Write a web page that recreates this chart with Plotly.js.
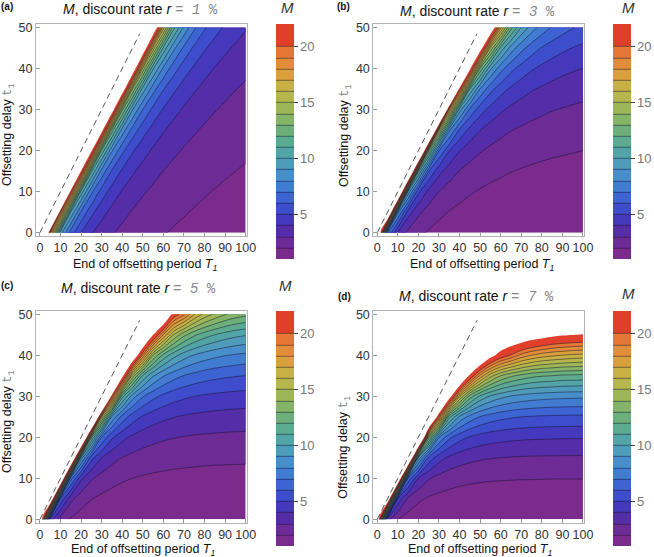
<!DOCTYPE html>
<html>
<head>
<meta charset="utf-8">
<script src="https://cdn.plot.ly/plotly-3.0.1.min.js"></script>
<style>
  html, body { margin: 0; padding: 0; background: #fff; }
  #chart { width: 654px; height: 557px; }
</style>
</head>
<body>
<div id="chart"></div>
<script>
// grid: end of offsetting period T1 (x) and offsetting delay t1 (y)
const periodEnd = [0, 5, 10, 15, 20, 25, 30, 35, 40, 45, 50, 55, 60, 65, 70, 75, 80, 85, 90, 95, 100];
const delay = [0, 5, 10, 15, 20, 25, 30, 35, 40, 45, 50];

const rates = ['1', '3', '5', '7'];
const panelTags = ['(a)', '(b)', '(c)', '(d)'];

// M read off each panel on the grid above (rows = delay, cols = periodEnd)
// values above 22 are off the colour range (left blank); next to the edge they
// are set so the blank edge lands where it is in the figure
const mRate1 = [
  [40.4, 18.4, 9.44, 6.47, 4.98, 4.09, 3.50, 3.08, 2.77, 2.53, 2.33, 2.17, 2.04, 1.93, 1.84, 1.76, 1.69, 1.63, 1.57, 1.53, 1.48],
  [30, 41, 19.4, 9.98, 6.84, 5.27, 4.33, 3.71, 3.26, 2.93, 2.67, 2.47, 2.30, 2.16, 2.05, 1.95, 1.86, 1.79, 1.72, 1.67, 1.61],
  [30, 30, 42, 20.5, 10.6, 7.23, 5.57, 4.58, 3.92, 3.45, 3.10, 2.83, 2.61, 2.43, 2.29, 2.16, 2.06, 1.97, 1.89, 1.82, 1.76],
  [30, 30, 30, 43, 21.7, 11.2, 7.65, 5.89, 4.84, 4.15, 3.65, 3.28, 2.99, 2.76, 2.57, 2.42, 2.29, 2.18, 2.08, 2.00, 1.93],
  [30, 30, 30, 30, 43.7, 22.5, 11.8, 8.09, 6.23, 5.12, 4.38, 3.86, 3.46, 3.16, 2.92, 2.72, 2.56, 2.42, 2.30, 2.20, 2.11],
  [30, 30, 30, 30, 30, 30, 23.2, 12.5, 8.56, 6.59, 5.42, 4.64, 4.08, 3.66, 3.34, 3.09, 2.88, 2.70, 2.56, 2.43, 2.33],
  [30, 30, 30, 30, 30, 30, 30, 23.9, 13.2, 9.05, 6.97, 5.73, 4.90, 4.32, 3.88, 3.53, 3.26, 3.04, 2.86, 2.71, 2.58],
  [30, 30, 30, 30, 30, 30, 30, 30, 24.6, 14.0, 9.57, 7.37, 6.06, 5.19, 4.56, 4.10, 3.74, 3.45, 3.22, 3.02, 2.86],
  [30, 30, 30, 30, 30, 30, 30, 30, 30, 25.0, 14.8, 10.1, 7.80, 6.41, 5.48, 4.83, 4.33, 3.95, 3.65, 3.40, 3.20],
  [30, 30, 30, 30, 30, 30, 30, 30, 30, 30, 25.2, 15.6, 10.7, 8.25, 6.78, 5.80, 5.10, 4.58, 4.18, 3.86, 3.60],
  [30, 30, 30, 30, 30, 30, 30, 30, 30, 30, 30, 25.5, 16.5, 11.3, 8.72, 7.17, 6.13, 5.40, 4.85, 4.42, 4.08]
];
const mRate3 = [
  [29.2, 7.18, 3.86, 2.76, 2.22, 1.90, 1.69, 1.54, 1.43, 1.35, 1.29, 1.24, 1.20, 1.17, 1.14, 1.12, 1.10, 1.08, 1.07, 1.06, 1.05],
  [30, 29.8, 8.34, 4.48, 3.21, 2.58, 2.20, 1.96, 1.79, 1.66, 1.57, 1.50, 1.44, 1.39, 1.35, 1.32, 1.30, 1.28, 1.26, 1.25, 1.23],
  [30, 30, 31, 9.69, 5.21, 3.73, 2.99, 2.56, 2.27, 2.08, 1.93, 1.82, 1.74, 1.67, 1.62, 1.57, 1.54, 1.51, 1.48, 1.46, 1.45],
  [30, 30, 30, 32.5, 11.3, 6.05, 4.33, 3.48, 2.97, 2.64, 2.41, 2.24, 2.12, 2.02, 1.94, 1.88, 1.83, 1.79, 1.75, 1.72, 1.70],
  [30, 30, 30, 30, 34.2, 13.1, 7.03, 5.03, 4.04, 3.45, 3.07, 2.80, 2.61, 2.46, 2.35, 2.26, 2.18, 2.12, 2.08, 2.04, 2.00],
  [30, 30, 30, 30, 30, 36.2, 15.2, 8.17, 5.84, 4.69, 4.01, 3.57, 3.26, 3.03, 2.86, 2.73, 2.62, 2.54, 2.47, 2.41, 2.37],
  [30, 30, 30, 30, 30, 30, 38.4, 17.7, 9.49, 6.79, 5.45, 4.66, 4.14, 3.78, 3.52, 3.32, 3.17, 3.04, 2.95, 2.87, 2.80],
  [30, 30, 30, 30, 30, 30, 30, 41.1, 20.5, 11.0, 7.89, 6.33, 5.42, 4.82, 4.40, 4.09, 3.86, 3.68, 3.54, 3.42, 3.33],
  [30, 30, 30, 30, 30, 30, 30, 30, 42.5, 22.6, 12.8, 9.16, 7.36, 6.29, 5.60, 5.11, 4.75, 4.48, 4.27, 4.11, 3.98],
  [30, 30, 30, 30, 30, 30, 30, 30, 30, 30, 23.9, 14.9, 10.7, 8.55, 7.31, 6.50, 5.93, 5.52, 5.21, 4.97, 4.77],
  [30, 30, 30, 30, 30, 30, 30, 30, 30, 30, 30, 25.5, 17.3, 12.4, 9.93, 8.49, 7.55, 6.89, 6.41, 6.05, 5.77]
];
const mRate5 = [
  [26.5, 4.52, 2.54, 1.90, 1.58, 1.40, 1.29, 1.21, 1.16, 1.12, 1.09, 1.07, 1.05, 1.04, 1.03, 1.02, 1.02, 1.01, 1.01, 1.01, 1.01],
  [30, 27.2, 5.80, 3.26, 2.43, 2.03, 1.80, 1.65, 1.55, 1.49, 1.44, 1.40, 1.37, 1.35, 1.34, 1.32, 1.31, 1.31, 1.30, 1.30, 1.30],
  [30, 30, 28.6, 7.45, 4.19, 3.12, 2.61, 2.31, 2.12, 2.00, 1.91, 1.84, 1.80, 1.76, 1.74, 1.72, 1.70, 1.69, 1.68, 1.67, 1.67],
  [30, 30, 30, 30.5, 9.57, 5.38, 4.01, 3.35, 2.97, 2.73, 2.56, 2.45, 2.37, 2.31, 2.26, 2.23, 2.20, 2.18, 2.17, 2.16, 2.15],
  [30, 30, 30, 30, 32.9, 12.3, 6.91, 5.15, 4.30, 3.81, 3.50, 3.29, 3.14, 3.04, 2.96, 2.90, 2.86, 2.83, 2.80, 2.78, 2.77],
  [30, 30, 30, 30, 30, 36, 15.8, 8.87, 6.62, 5.52, 4.89, 4.49, 4.22, 4.04, 3.90, 3.80, 3.73, 3.67, 3.63, 3.60, 3.57],
  [30, 30, 30, 30, 30, 30, 40, 20.3, 11.4, 8.49, 7.09, 6.28, 5.77, 5.42, 5.18, 5.01, 4.88, 4.79, 4.72, 4.66, 4.62],
  [30, 30, 30, 30, 30, 30, 30, 43, 22.85, 14.6, 10.9, 9.10, 8.07, 7.41, 6.97, 6.66, 6.43, 6.27, 6.15, 6.06, 5.99],
  [30, 30, 30, 30, 30, 30, 30, 30, 30, 25.2, 18.8, 14.0, 11.7, 10.4, 9.51, 8.94, 8.55, 8.26, 8.05, 7.89, 7.78],
  [30, 30, 30, 30, 30, 30, 30, 30, 30, 30, 27.7, 22.1, 18.0, 15.0, 13.3, 12.2, 11.5, 11.0, 10.6, 10.3, 10.1],
  [30, 30, 30, 30, 30, 30, 30, 30, 30, 30, 30, 30, 26, 21.0, 19.3, 17.1, 15.7, 14.8, 14.1, 13.6, 13.3]
];
const mRate7 = [
  [25.4, 3.39, 1.99, 1.54, 1.33, 1.21, 1.14, 1.09, 1.06, 1.04, 1.03, 1.02, 1.02, 1.01, 1.01, 1.01, 1.00, 1.00, 1.00, 1.00, 1.00],
  [30, 26.1, 4.81, 2.82, 2.18, 1.88, 1.72, 1.62, 1.55, 1.51, 1.48, 1.46, 1.45, 1.44, 1.43, 1.43, 1.43, 1.42, 1.42, 1.42, 1.42],
  [30, 30, 27.8, 6.82, 4.00, 3.10, 2.67, 2.44, 2.29, 2.20, 2.14, 2.10, 2.08, 2.06, 2.04, 2.04, 2.03, 2.02, 2.02, 2.02, 2.02],
  [30, 30, 30, 30.2, 9.68, 5.68, 4.40, 3.79, 3.46, 3.26, 3.13, 3.04, 2.99, 2.95, 2.92, 2.90, 2.89, 2.88, 2.87, 2.87, 2.87],
  [30, 30, 30, 30, 32.5, 13.7, 8.06, 6.24, 5.38, 4.91, 4.62, 4.44, 4.32, 4.24, 4.18, 4.14, 4.12, 4.10, 4.09, 4.08, 4.07],
  [30, 30, 30, 30, 30, 32, 19.5, 11.4, 8.85, 7.64, 6.97, 6.56, 6.30, 6.13, 6.01, 5.93, 5.88, 5.84, 5.82, 5.80, 5.79],
  [30, 30, 30, 30, 30, 30, 34.6, 23.45, 16.2, 12.6, 10.8, 9.88, 9.31, 8.94, 8.69, 8.53, 8.42, 8.34, 8.29, 8.25, 8.23],
  [30, 30, 30, 30, 30, 30, 30, 30, 27.6, 21.5, 17.8, 15.4, 14.0, 13.2, 12.7, 12.3, 12.1, 12.0, 11.8, 11.8, 11.7],
  [30, 30, 30, 30, 30, 30, 30, 30, 30, 30, 26, 22.9, 21.0, 19.9, 18.7, 18.0, 17.5, 17.2, 17.0, 16.8, 16.7],
  [30, 30, 30, 30, 30, 30, 30, 30, 30, 30, 30, 30, 26, 24.7, 24.1, 23.4, 23.0, 22.5, 22.2, 22.05, 21.95],
  [30, 30, 30, 30, 30, 30, 30, 30, 30, 30, 30, 30, 30, 30, 30, 30, 30, 30, 30, 30, 30]
];
const panelGrids = [mRate1, mRate3, mRate5, mRate7];

// dashed reference line t1 = T1
const diagonal = [0, 48.5];
const colorTicks = [5, 10, 15, 20];
const blankAbove = 22;
const blankValue = 30;

// one colour per band: 1-2, 2-3, ..., 19-20, 20-22
const bandColors = [
  '#7a2b8c', '#5f2a9e', '#4a30b4', '#3e42c6', '#3b58d0', '#3e70d4', '#4586d0',
  '#4b96c4', '#50a0b0', '#56a89c', '#62ad86', '#76b170', '#90b65e', '#aab851',
  '#c0b646', '#d2aa3e', '#de983a', '#e58236', '#e66a31', '#e0402b'
];

const W = 654, H = 557;
const px = x => x / W;
const py = y => 1 - y / H;

// colour scale so that each band picks its own colour
const colorscale = [[0, bandColors[0]]];
bandColors.forEach((c, k) => {
  if (k < 19) colorscale.push([(k + 0.5) / 19, c]);
});
colorscale.push([1, bandColors[19]]);

// the white mask gets a blank border so its edge falls outside the frame
const maskX = [-5].concat(periodEnd, [105]);
const maskY = [-5].concat(delay, [55]);
function maskGrid(grid) {
  const edge = maskX.map(() => blankValue);
  return [edge].concat(grid.map(r => [blankValue].concat(r, [blankValue])), [edge]);
}

// pixel boxes of each panel (frame) and its colour bar
const panels = [
  { left: 36, top: 24.3, bar: 276, barTop: 24.3 },
  { left: 373.3, top: 24.3, bar: 613.3, barTop: 24.3 },
  { left: 36, top: 310.9, bar: 276, barTop: 311.3 },
  { left: 373.3, top: 310.9, bar: 613.3, barTop: 311.3 }
];
const frameW = 210.7, frameH = 211.7;

const traces = [];
const layout = {
  width: W, height: H,
  margin: { l: 0, r: 0, t: 0, b: 0 },
  paper_bgcolor: '#fff', plot_bgcolor: '#fff',
  font: { family: 'Liberation Sans, Arial, sans-serif', color: '#222' },
  showlegend: false,
  hovermode: false,
  annotations: []
};

function axisStyle(domain, range, dtick) {
  return {
    domain: domain, range: range,
    showline: true, mirror: true, linecolor: '#b4b4b4', linewidth: 1,
    ticks: 'inside', ticklen: 4, tickcolor: '#999', tickwidth: 1,
    tick0: 0, dtick: dtick,
    showgrid: false, zeroline: false, fixedrange: true,
    tickfont: { size: 12.5, color: '#333' }
  };
}

panels.forEach((p, i) => {
  const n = i + 1;
  const xa = 'x' + (n === 1 ? '' : n), ya = 'y' + (n === 1 ? '' : n);
  const grid = panelGrids[i];

  traces.push({
    type: 'contour', x: periodEnd, y: delay, z: grid,
    xaxis: xa, yaxis: ya,
    autocontour: false,
    contours: { start: 2, end: 20, size: 1, coloring: 'fill', showlines: true },
    line: { color: 'rgba(25,20,45,0.85)', width: 0.6, smoothing: 1 },
    colorscale: colorscale, zmin: 1, zmax: 22,
    showscale: true,
    colorbar: {
      x: px(p.bar), xanchor: 'left', xpad: 0,
      y: py(p.barTop), yanchor: 'top', ypad: 0,
      len: 235, lenmode: 'pixels',
      thickness: 18, thicknessmode: 'pixels',
      outlinewidth: 0, borderwidth: 0,
      tickvals: colorTicks, ticks: 'outside', ticklen: 4, tickcolor: '#444',
      tickfont: { size: 13, color: '#777' }
    },
    hoverinfo: 'skip'
  });

  // blank out everything above the top of the colour range
  traces.push({
    type: 'contour', x: maskX, y: maskY, z: maskGrid(grid),
    xaxis: xa, yaxis: ya,
    contours: { type: 'constraint', operation: '<', value: blankAbove },
    fillcolor: '#ffffff',
    line: { width: 0, smoothing: 1, color: '#ffffff' },
    showscale: false, hoverinfo: 'skip'
  });

  traces.push({
    type: 'scatter', mode: 'lines', x: diagonal, y: diagonal,
    xaxis: xa, yaxis: ya,
    line: { color: '#444', width: 0.9, dash: '6px,4px' },
    hoverinfo: 'skip'
  });

  const xd = [px(p.left), px(p.left + frameW)];
  const yd = [py(p.top + frameH), py(p.top)];
  layout['xaxis' + (n === 1 ? '' : n)] = Object.assign(axisStyle(xd, [-1.9, 100.5], 10), { anchor: ya });
  layout['yaxis' + (n === 1 ? '' : n)] = Object.assign(axisStyle(yd, [-0.8, 50.8], 10), { anchor: xa });
});

// text: panel tags, titles, axis titles, colour bar titles
const mono = "font-family:'Liberation Mono',monospace;color:#888";
const tagPos = [[7, 6], [343, 6], [7, 285], [344, 296]];
const titlePos = [[140, 10], [477.5, 11.7], [138.7, 288.3], [476.7, 296.7]];
const xTitlePos = [[145, 264.5], [482, 264.5], [143, 550], [480, 550]];
const yTitlePos = [[8, 135], [345, 135], [8, 422], [345, 446.7]];
const barTitlePos = [[287, 7], [628, 7], [285, 285], [628, 293]];

function label(pos, text, font, extra) {
  return Object.assign({
    xref: 'paper', yref: 'paper', x: px(pos[0]), y: py(pos[1]),
    xanchor: 'center', yanchor: 'middle',
    text: text, showarrow: false, font: font
  }, extra || {});
}

for (let i = 0; i < 4; i++) {
  const ann = layout.annotations;
  ann.push(label(tagPos[i], '<b>' + panelTags[i] + '</b>', { size: 10, color: '#111' }));
  ann.push(label(titlePos[i],
    '<i>M</i>, discount rate <i>r</i> <span style="' + mono + '">= <i>' + rates[i] + '</i> %</span>',
    { size: 14, color: '#111' }));
  ann.push(label(xTitlePos[i], 'End of offsetting period <i>T</i><sub><i>1</i></sub>',
    { size: 12.5, color: '#111' }));
  ann.push(label(yTitlePos[i], 'Offsetting delay <span style="' + mono + '">t<sub>1</sub></span>',
    { size: 12.5, color: '#111' }, { textangle: -90 }));
  ann.push(label(barTitlePos[i], '<i>M</i>', { size: 15, color: '#333' }));
}

Plotly.newPlot('chart', traces, layout, { staticPlot: true, displayModeBar: false });
</script>
</body>
</html>
